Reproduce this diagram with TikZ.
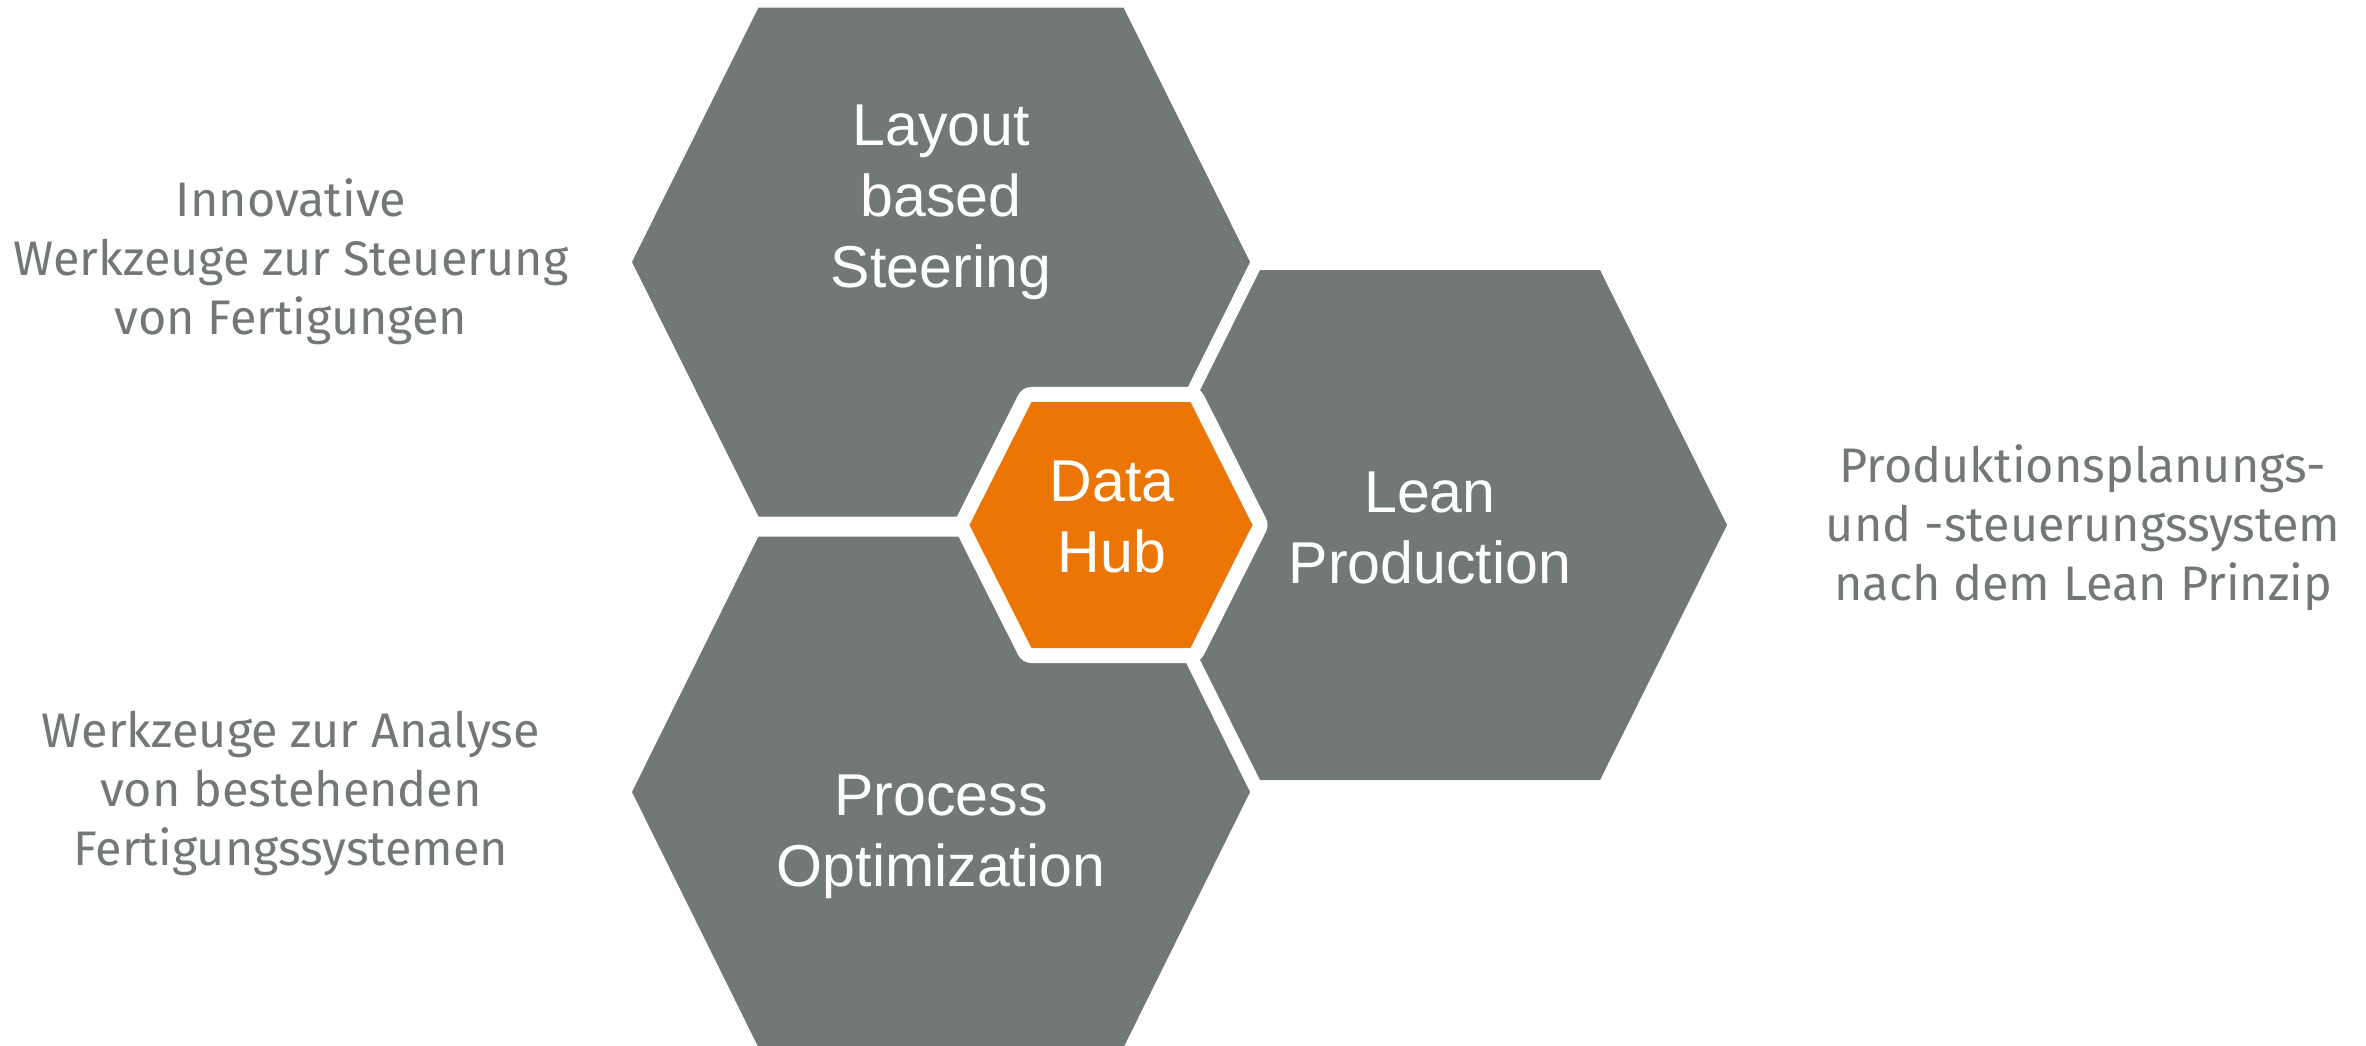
\documentclass[tikz,border=0pt]{standalone}
\usepackage{fontspec}
\setmainfont{Liberation Sans}
\newfontfamily\sidefont{Fira Sans}
\definecolor{hexgray}{RGB}{113,120,118}
\definecolor{huborange}{RGB}{235,117,5}
\definecolor{sidegray}{RGB}{113,120,118}
% hexagon: center x, center y, half width, half top width, half height
\newcommand\myhex[5]{(#1-#3,#2) -- (#1-#4,#2-#5) -- (#1+#4,#2-#5) -- (#1+#3,#2) -- (#1+#4,#2+#5) -- (#1-#4,#2+#5) -- cycle}
\newcommand\stack[1]{\begin{tabular}[t]{@{}c@{}}#1\end{tabular}}
\tikzset{
  hexshape/.style={fill=hexgray},
  hubshape/.style={fill=huborange, draw=white, line width=0.3cm, line join=round},
  hexlabel/.style={anchor=base, inner sep=0pt, text=white, font=\fontsize{16.8pt}{20.2pt}\selectfont},
  sidelabel/.style={anchor=base, inner sep=0pt, text=sidegray, font=\sidefont\fontsize{13.8pt}{16.79pt}\selectfont},
}
\begin{document}
\begin{tikzpicture}[x=0.01cm, y=-0.01cm]
\useasboundingbox (0,0) rectangle (2366,1045);
% gray hexagons
\fill[hexshape] \myhex{941}{262}{309}{182.5}{254.5};
\fill[hexshape] \myhex{941}{792}{309}{182.5}{255.5};
\fill[hexshape] \myhex{1430}{525}{297}{170}{255};
% central hub with white border
\draw[hubshape] \myhex{1111}{525}{141.5}{79.5}{123};
\fill[huborange] \myhex{1111}{525}{141.5}{79.5}{123};
% hexagon labels
\node[hexlabel] (layout) at (941,145) {\stack{Layout\\based\\Steering}};
\node[hexlabel] (lean) at (1430,512) {\stack{Lean\\Production}};
\node[hexlabel] (process) at (941,815) {\stack{Process\\Optimization}};
\node[hexlabel] (hub) at (1112,501) {\stack{Data\\Hub}};
% side texts
\node[sidelabel] (sidetop) at (291,216) {\stack{Innovative\\Werkzeuge zur Steuerung\\von Fertigungen}};
\node[sidelabel] (sideright) at (2083,482) {\stack{Produktionsplanungs-\\und -steuerungssystem\\nach dem Lean Prinzip}};
\node[sidelabel] (sidebottom) at (291,747) {\stack{Werkzeuge zur Analyse\\von bestehenden\\Fertigungssystemen}};
\end{tikzpicture}
\end{document}
